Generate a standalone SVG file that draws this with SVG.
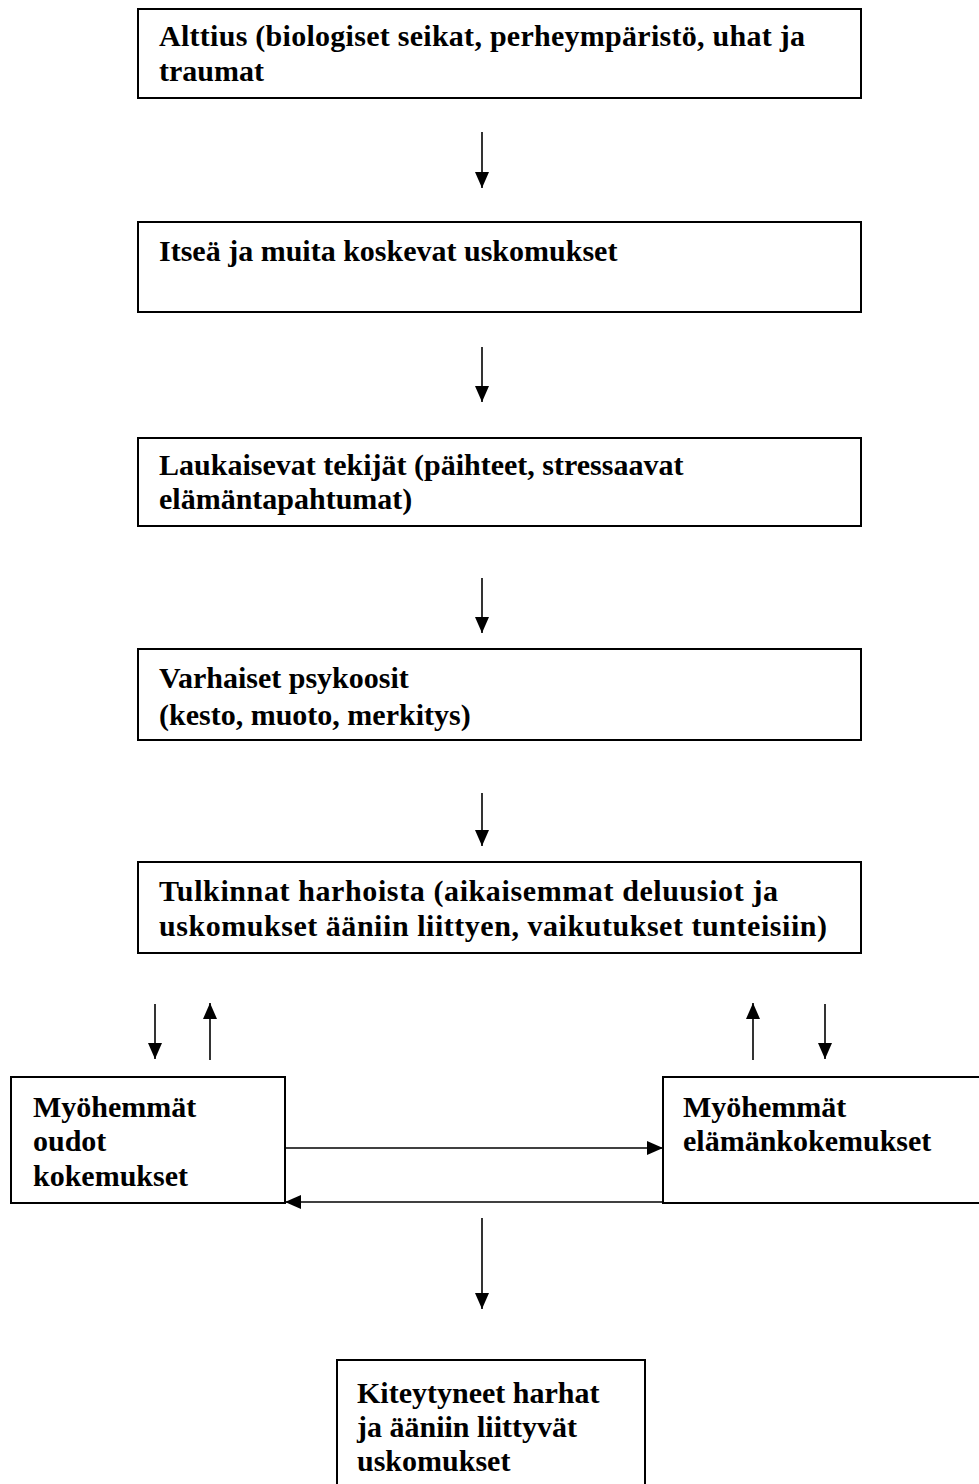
<svg xmlns="http://www.w3.org/2000/svg" width="979" height="1484" viewBox="0 0 979 1484">
<defs>
<style>
.box{fill:#fff;stroke:#000;stroke-width:2}
.t{font-family:"Liberation Serif","Times New Roman",serif;font-weight:bold;font-size:30px;fill:#000}
.c{stroke:#000;stroke-width:1.6;fill:none;marker-end:url(#ah)}
</style>
<marker id="ah" markerUnits="userSpaceOnUse" markerWidth="18" markerHeight="14" refX="16" refY="7" orient="auto">
<path d="M0,0 L16,7 L0,14 Z" fill="#000"/>
</marker>
</defs>
<rect width="979" height="1484" fill="#fff"/>
<g id="connectors">
<line class="c" x1="482" y1="132" x2="482" y2="188"/>
<line class="c" x1="482" y1="347" x2="482" y2="402"/>
<line class="c" x1="482" y1="578" x2="482" y2="633"/>
<line class="c" x1="482" y1="793" x2="482" y2="846"/>
<line class="c" x1="155" y1="1004" x2="155" y2="1059"/>
<line class="c" x1="210" y1="1060" x2="210" y2="1003"/>
<line class="c" x1="753" y1="1060" x2="753" y2="1003"/>
<line class="c" x1="825" y1="1004" x2="825" y2="1059"/>
<line class="c" x1="286" y1="1148" x2="663" y2="1148"/>
<line class="c" x1="663" y1="1202" x2="285" y2="1202"/>
<line class="c" x1="482" y1="1218" x2="482" y2="1309"/>
</g>
<g id="n1">
<rect class="box" x="138" y="9" width="723" height="89"/>
<text class="t" x="159" y="46" textLength="646" lengthAdjust="spacing">Alttius (biologiset seikat, perheympäristö, uhat ja</text>
<text class="t" x="159" y="81">traumat</text>
</g>
<g id="n2">
<rect class="box" x="138" y="222" width="723" height="90"/>
<text class="t" x="159" y="261">Itseä ja muita koskevat uskomukset</text>
</g>
<g id="n3">
<rect class="box" x="138" y="438" width="723" height="88"/>
<text class="t" x="159" y="475">Laukaisevat tekijät (päihteet, stressaavat</text>
<text class="t" x="159" y="509">elämäntapahtumat)</text>
</g>
<g id="n4">
<rect class="box" x="138" y="649" width="723" height="91"/>
<text class="t" x="159" y="688">Varhaiset psykoosit</text>
<text class="t" x="159" y="725">(kesto, muoto, merkitys)</text>
</g>
<g id="n5">
<rect class="box" x="138" y="862" width="723" height="91"/>
<text class="t" x="159" y="901" textLength="619" lengthAdjust="spacing">Tulkinnat harhoista (aikaisemmat deluusiot ja</text>
<text class="t" x="159" y="936" textLength="668" lengthAdjust="spacing">uskomukset ääniin liittyen, vaikutukset tunteisiin)</text>
</g>
<g id="n6">
<rect class="box" x="11" y="1077" width="274" height="126"/>
<text class="t" x="33" y="1117">Myöhemmät</text>
<text class="t" x="33" y="1151">oudot</text>
<text class="t" x="33" y="1186">kokemukset</text>
</g>
<g id="n7">
<rect class="box" x="663" y="1077" width="330" height="126"/>
<text class="t" x="683" y="1117">Myöhemmät</text>
<text class="t" x="683" y="1151">elämänkokemukset</text>
</g>
<g id="n8">
<rect class="box" x="337" y="1360" width="308" height="140"/>
<text class="t" x="357" y="1403">Kiteytyneet harhat</text>
<text class="t" x="357" y="1437">ja ääniin liittyvät</text>
<text class="t" x="357" y="1471">uskomukset</text>
</g>
</svg>
